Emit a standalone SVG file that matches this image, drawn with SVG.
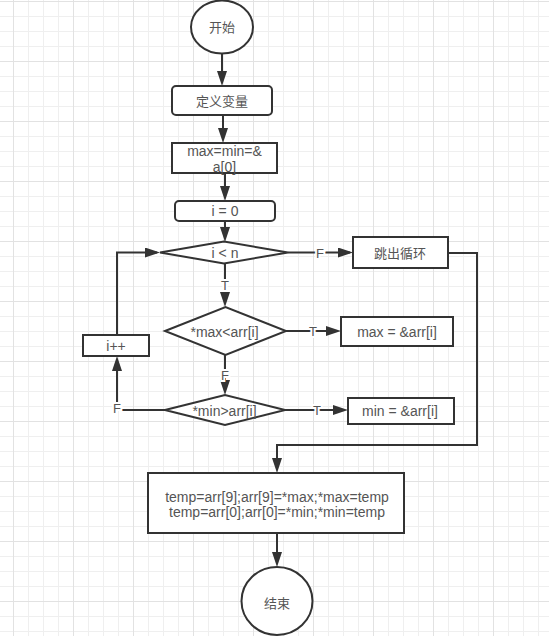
<svg xmlns="http://www.w3.org/2000/svg" width="549" height="636" viewBox="0 0 549 636">
<defs>
<pattern id="grid" x="13" y="1" width="60" height="60" patternUnits="userSpaceOnUse">
<path d="M15.5,0V60M30.5,0V60M45.5,0V60M0,15.5H60M0,30.5H60M0,45.5H60" stroke="#efefef" stroke-width="1" fill="none"/>
<path d="M0.5,0V60M0,0.5H60" stroke="#e2e2e2" stroke-width="1" fill="none"/>
</pattern>
<marker id="arr" viewBox="0 0 15 10" refX="12" refY="5" markerWidth="15" markerHeight="10" markerUnits="userSpaceOnUse" orient="auto">
<path d="M0,0 L15,5 L0,10 Z" fill="#333"/>
</marker>
<style>
.shape{fill:#fff;stroke:#333;stroke-width:2}
.t{font-family:"Liberation Sans","Noto Sans CJK SC",sans-serif;font-size:14px;fill:#555;text-anchor:middle;dominant-baseline:central}
.cn{font-family:"Noto Sans CJK SC","Liberation Sans",sans-serif;font-size:13px;fill:#555;text-anchor:middle;dominant-baseline:central}
.c{fill:none;stroke:#333;stroke-width:2}
.lbl{font-family:"Liberation Sans",sans-serif;font-size:13px;fill:#555;text-anchor:middle;dominant-baseline:central;stroke:#fff;stroke-width:4;paint-order:stroke}
</style>
</defs>
<rect width="549" height="636" fill="#fff"/>
<rect width="549" height="636" fill="url(#grid)"/>

<g id="connectors">
<path class="c" d="M222,53V83" marker-end="url(#arr)"/>
<path class="c" d="M223,115V140" marker-end="url(#arr)"/>
<path class="c" d="M225,173V198" marker-end="url(#arr)"/>
<path class="c" d="M225,221V239" marker-end="url(#arr)"/>
<path class="c" d="M225,263V304" marker-end="url(#arr)"/>
<path class="c" d="M288,252.5H350" marker-end="url(#arr)"/>
<path class="c" d="M448,253H477V445H277V470" marker-end="url(#arr)"/>
<path class="c" d="M286,331H338" marker-end="url(#arr)"/>
<path class="c" d="M225,355V392" marker-end="url(#arr)"/>
<path class="c" d="M285,410H345" marker-end="url(#arr)"/>
<path class="c" d="M165,410H117V359" marker-end="url(#arr)"/>
<path class="c" d="M117,335V252.5H157" marker-end="url(#arr)"/>
<path class="c" d="M277,533V564" marker-end="url(#arr)"/>
<text class="lbl" x="225" y="285">T</text>
<text class="lbl" x="320" y="253">F</text>
<text class="lbl" x="313" y="331">T</text>
<text class="lbl" x="225" y="375">F</text>
<text class="lbl" x="317" y="410">T</text>
<text class="lbl" x="117" y="408">F</text>
</g>

<g id="start">
<ellipse class="shape" cx="222" cy="27" rx="31" ry="26.5"/>
<text class="cn" x="222" y="26">开始</text>
</g>
<g id="define">
<rect class="shape" x="172" y="86" width="100" height="29" rx="4"/>
<text class="cn" x="222" y="100.5">定义变量</text>
</g>
<g id="init-ptr">
<rect class="shape" x="172" y="143" width="105" height="30"/>
<text class="t" x="224.5" y="151">max=min=&amp;</text>
<text class="t" x="224.5" y="166.5">a[0]</text>
</g>
<g id="init-i">
<rect class="shape" x="175" y="201" width="100" height="20" rx="4"/>
<text class="t" x="225" y="211">i = 0</text>
</g>
<g id="cond-loop">
<path class="shape" d="M160,252.5L224,241.5L288,252.5L224,263.5Z"/>
<text class="t" x="225" y="253">i &lt; n</text>
</g>
<g id="break">
<rect class="shape" x="353" y="237" width="95" height="31"/>
<text class="cn" x="400" y="252.5">跳出循环</text>
</g>
<g id="cond-max">
<path class="shape" d="M165,331L225.5,307L286,331L225.5,355Z"/>
<text class="t" x="224.5" y="332">*max&lt;arr[i]</text>
</g>
<g id="set-max">
<rect class="shape" x="341" y="317" width="112" height="29"/>
<text class="t" x="397" y="331.5">max = &amp;arr[i]</text>
</g>
<g id="cond-min">
<path class="shape" d="M165,410L225,395L285,410L225,425Z"/>
<text class="t" x="224.5" y="411">*min&gt;arr[i]</text>
</g>
<g id="set-min">
<rect class="shape" x="348" y="398" width="106" height="26"/>
<text class="t" x="400" y="411">min = &amp;arr[i]</text>
</g>
<g id="inc">
<rect class="shape" x="83" y="335" width="66" height="21"/>
<text class="t" x="116" y="345.5">i++</text>
</g>
<g id="swap">
<rect class="shape" x="148" y="473" width="256" height="60"/>
<text class="t" x="277" y="497">temp=arr[9];arr[9]=*max;*max=temp</text>
<text class="t" x="277" y="512">temp=arr[0];arr[0]=*min;*min=temp</text>
</g>
<g id="end">
<ellipse class="shape" cx="277" cy="601" rx="35.5" ry="34"/>
<text class="cn" x="277" y="602">结束</text>
</g>
</svg>
